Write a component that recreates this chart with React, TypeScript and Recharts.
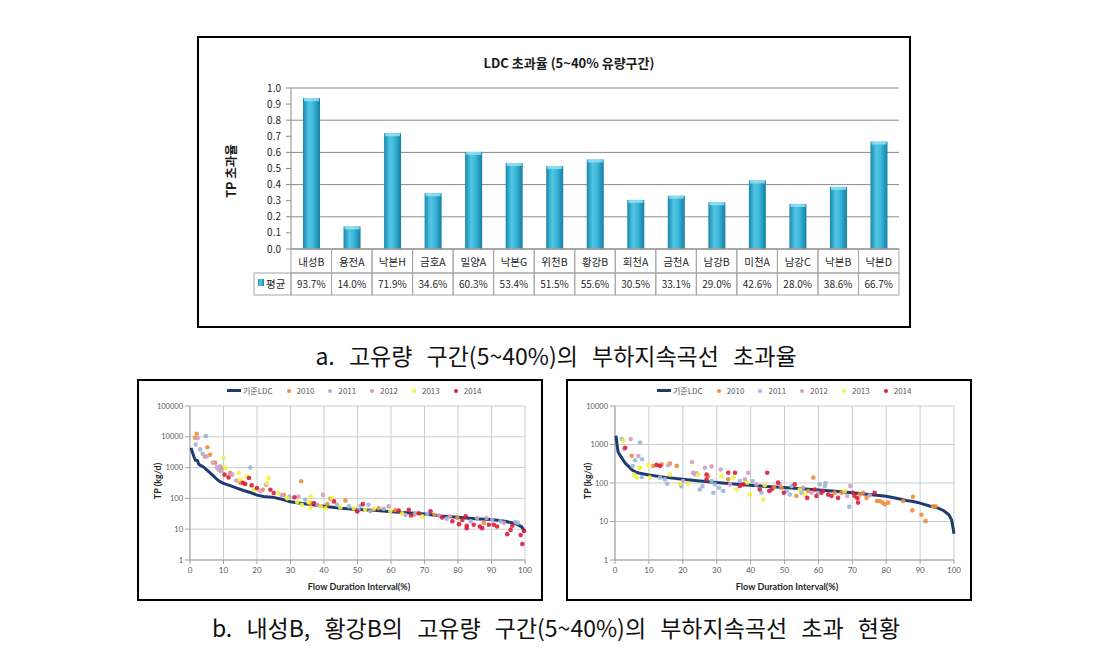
import React from "react";
import {
  Bar,
  BarChart,
  CartesianGrid,
  Scatter,
  ScatterChart,
  XAxis,
  YAxis,
} from "recharts";

// ---- top chart data ----
const stations = [
  "내성B", "용전A", "낙본H", "금호A", "밀양A", "낙본G", "위천B", "황강B",
  "회천A", "금천A", "남강B", "미천A", "남강C", "낙본B", "낙본D",
];
const exceedRates = [
  93.7, 14.0, 71.9, 34.6, 60.3, 53.4, 51.5, 55.6, 30.5, 33.1, 29.0, 42.6, 28.0, 38.6, 66.7,
];
const rateTicks = [0, 0.1, 0.2, 0.3, 0.4, 0.5, 0.6, 0.7, 0.8, 0.9, 1.0];

// ---- bottom charts data ----
type Pt = [number, number];
const flowTicks = [0, 10, 20, 30, 40, 50, 60, 70, 80, 90, 100];
const loadTicksLeft = [1, 10, 100, 1000, 10000, 100000];
const loadTicksRight = [1, 10, 100, 1000, 10000];
const seriesNames = ["2010", "2011", "2012", "2013", "2014"];
const ldcName = "기준LDC";

// 내성B
const ldcNaeseong: Pt[] = [
  [0.3, 4300], [0.8, 3000], [1.2, 2200], [1.6, 1750], [2.2, 1700], [2.6, 1300],
  [3, 1200], [4, 1050], [5, 850], [6, 680], [7, 540], [8, 420], [9, 350],
  [10, 305], [12, 260], [14, 215], [16, 180], [18, 155], [20, 128], [22, 115],
  [25, 108], [28, 90], [30, 78], [33, 70], [36, 63], [40, 56], [45, 48],
  [50, 44], [55, 41], [60, 37], [65, 34], [70, 31], [75, 27], [80, 24.5],
  [85, 22], [90, 20.5], [94, 18], [97, 15.5], [99, 12], [100, 8],
];
const naeseong2010: Pt[] = [
  [1.5, 9300], [2, 12500], [4.5, 2300], [5.2, 4600], [6, 2600], [7.5, 1450],
  [9.5, 950], [12, 670], [15, 320], [21.7, 190], [28, 130], [33.2, 360],
  [36, 70], [41, 65], [41.9, 97], [46.4, 85], [50, 38], [56.3, 48], [61.3, 42],
  [67, 30], [73, 29], [79.8, 23], [87.7, 16],
];
const naeseong2011: Pt[] = [
  [1.7, 5600], [3, 3900], [3.8, 2800], [4.7, 10500], [9.2, 760], [18, 1000],
  [29.7, 115], [34.4, 90], [43.9, 62], [47.4, 55], [50.3, 42], [50.9, 58],
  [53.3, 62], [57.8, 46], [67.3, 33], [70.8, 31], [76.6, 22], [83.8, 18],
  [90.2, 20], [92.7, 18], [97.2, 17], [97.9, 16],
];
const naeseong2012: Pt[] = [
  [2.3, 9000], [5, 2300], [6.8, 1450], [8, 1030], [8.5, 860], [9, 1100],
  [12.6, 590], [13.8, 380], [21, 170], [22.7, 280], [27.4, 125], [32.4, 115],
  [38, 62], [39.7, 130], [53.8, 38], [59.3, 55], [64.3, 29], [74.3, 28],
  [77.6, 26], [85.7, 23], [88.5, 23], [93.7, 16],
];
const naeseong2013: Pt[] = [
  [10, 2050], [10.5, 980], [14.5, 670], [15, 410], [17, 520], [19.1, 200],
  [23, 315], [23.4, 460], [26.4, 150], [29, 100], [32, 76], [33.4, 62],
  [35.4, 75], [36, 115], [35.9, 50], [39, 55], [40.4, 48], [42.4, 100],
  [44.9, 51], [48.9, 48], [52.3, 43], [54.9, 46], [59.8, 38], [63.3, 33],
  [69.3, 26],
];
const naeseong2014: Pt[] = [
  [10.3, 590], [11.5, 480], [15.8, 320], [16.5, 295], [17.6, 460], [18.4, 265],
  [20, 215], [24, 190], [25, 150], [31.2, 108], [37, 70], [43, 80], [49.9, 38],
  [51.6, 65], [62.3, 40], [65.3, 43], [66, 28], [68.3, 33], [71.8, 38],
  [75.3, 24], [78.3, 18], [80.3, 14.6], [81.3, 20], [82.3, 26], [82.6, 13],
  [82.6, 10.8], [84.7, 14], [86.5, 12.2], [87.2, 10.8], [89.2, 14], [90.7, 14],
  [91.7, 12.2], [94.7, 6.9], [95.7, 9.5], [96.2, 13], [98.7, 6.5], [99.2, 3.3],
  [99.7, 8.8],
];

// 황강B
const ldcHwanggang: Pt[] = [
  [0.3, 1700], [0.6, 1000], [0.9, 650], [1.5, 520], [2, 450], [3, 330],
  [4, 270], [5, 220], [6, 195], [7, 182], [10, 162], [15, 140], [20, 125],
  [25, 113], [30, 103], [35, 94], [40, 87], [45, 81], [50, 76], [55, 71],
  [60, 66], [65, 61], [70, 56], [75, 50], [80, 45], [83, 40], [86, 35],
  [88, 33], [90, 30], [93, 25], [95, 23], [97, 19], [98.5, 15], [99.3, 11],
  [99.7, 7], [100, 4.8],
];
const hwanggang2010: Pt[] = [
  [4.9, 510], [11.3, 278], [13.8, 305], [16.2, 320], [18.2, 278], [27.5, 150],
  [33.4, 124], [46.9, 78], [49.1, 75], [53.5, 46], [57, 62], [58.5, 138],
  [64.8, 56], [66.8, 56], [72.2, 50], [73.2, 56], [74.2, 41], [77.3, 34],
  [78.1, 34], [78.9, 31], [79.6, 28], [80.6, 31], [85, 34], [87.9, 44],
  [87.7, 19.5], [90.4, 15], [91.6, 10.2], [93.8, 25], [94.6, 25],
];
const hwanggang2011: Pt[] = [
  [2, 1380], [5.2, 275], [5.9, 390], [7.4, 1130], [8, 415], [7.9, 143],
  [13.3, 138], [14.7, 124], [15.4, 96], [19.6, 83], [23.6, 167], [25, 68],
  [25.8, 83], [28.5, 112], [29, 56], [29.5, 92], [30.7, 75], [31.9, 62],
  [36.8, 112], [40.6, 112], [43.2, 56], [50.6, 62], [51.6, 50], [52.1, 83],
  [55, 56], [59.9, 56], [60.4, 92], [61.9, 83], [62.1, 100], [69.1, 24],
];
const hwanggang2012: Pt[] = [
  [2.7, 760], [4.6, 1380], [6.9, 500], [15.7, 290], [20.1, 112], [22.7, 350],
  [23, 185], [24, 178], [26.5, 250], [28.5, 270], [31.2, 225], [33.9, 92],
  [38.3, 124], [39.3, 185], [41.7, 92], [48.6, 92], [55.5, 75], [58, 56],
  [68.5, 46], [69.4, 83], [75.1, 48],
];
const hwanggang2013: Pt[] = [
  [2.5, 1250], [5.6, 167], [6.4, 138], [7.2, 243], [7.4, 250], [9.8, 295],
  [10.3, 138], [16.2, 167], [19.2, 96], [21.6, 96], [24.5, 167], [31.4, 150],
  [34.9, 138], [35.8, 68], [39, 102], [39.8, 50], [43.7, 37], [44.2, 88],
  [54.5, 68], [56, 50], [67.8, 62],
];
const hwanggang2014: Pt[] = [
  [3, 820], [12.3, 295], [13.3, 278], [27, 167], [27, 124], [33.4, 185],
  [35.4, 185], [36.8, 83], [37.8, 92], [42.7, 68], [44.9, 185], [45.5, 62],
  [46.2, 68], [48.1, 102], [49.8, 56], [53, 92], [56.7, 41], [58.9, 68],
  [59.4, 46], [60.9, 56], [61.4, 62], [62.9, 50], [63.9, 46], [65.8, 41],
  [70.2, 56], [70.7, 46], [71.5, 40], [71.7, 31], [76.6, 56],
];

// ---- styles ----
const FONT_KR = '"Noto Sans CJK KR", "Noto Sans", sans-serif';
const FONT_EN = 'Lato, "Liberation Sans", sans-serif';
const yearColors = ["#ef8d3c", "#9fb6da", "#cfa0c6", "#f3f23a", "#dc1f3e"];
const LDC_COLOR = "#1f3c72";
const TABLE_LINE = "#a6a6a6";

const TOP_PLOT_W = 608;
const BAND = TOP_PLOT_W / stations.length;

const barData = stations.map((name, i) => ({ name, rate: exceedRates[i] / 100 }));
const toPts = (arr: Pt[]) => arr.map(([x, y]) => ({ x, y }));

function TableTick(props: any) {
  const { x, y, payload } = props;
  const i = props.index ?? stations.indexOf(payload.value);
  const left = x - BAND / 2;
  const txt = { fontFamily: FONT_KR, fontSize: 10.5, fill: "#262626" };
  return (
    <g>
      <rect x={left} y={y} width={BAND} height={24} fill="none" stroke={TABLE_LINE} />
      <text x={x} y={y + 17} textAnchor="middle" {...txt}>
        {payload.value}
      </text>
      <rect x={left} y={y + 24} width={BAND} height={22} fill="none" stroke={TABLE_LINE} />
      <text x={x} y={y + 39} textAnchor="middle" {...txt} fontSize={10}>
        {exceedRates[i].toFixed(1)}%
      </text>
      {i === 0 && (
        <g>
          <rect x={left - 37} y={y + 24} width={37} height={22} fill="none" stroke={TABLE_LINE} />
          <rect x={left - 33} y={y + 30} width={6} height={7} fill="url(#barFill)" />
          <text x={left - 25} y={y + 39} textAnchor="start" {...txt}>
            평균
          </text>
        </g>
      )}
    </g>
  );
}

function BarShape(props: any) {
  const { x, y, width, height } = props;
  if (!height || height <= 0) return <g />;
  return (
    <g>
      <rect x={x} y={y} width={width} height={height} fill="url(#barFill)" />
      <rect x={x + 1} y={y} width={width - 2} height={3} fill="#9ae4f5" opacity={0.8} />
    </g>
  );
}

function TopChart() {
  return (
    <div
      style={{
        position: "absolute",
        left: 197,
        top: 36,
        width: 714,
        height: 292,
        border: "2px solid #000",
        boxSizing: "border-box",
      }}
    >
      <BarChart
        width={710}
        height={288}
        data={barData}
        margin={{ top: 50, right: 10, bottom: 0, left: 0 }}
      >
        <defs>
          <linearGradient id="barFill" x1="0" y1="0" x2="1" y2="0">
            <stop offset="0%" stopColor="#1888ae" />
            <stop offset="35%" stopColor="#53c6e4" />
            <stop offset="60%" stopColor="#3cb8da" />
            <stop offset="100%" stopColor="#147fa4" />
          </linearGradient>
        </defs>
        <CartesianGrid vertical={false} stroke="#8a8a8a" />
        <XAxis
          dataKey="name"
          interval={0}
          height={77}
          tickSize={0}
          tickMargin={0}
          axisLine={{ stroke: "#8a8a8a" }}
          tick={(p: any) => <TableTick {...p} />}
        />
        <YAxis
          type="number"
          domain={[0, 1]}
          ticks={rateTicks}
          width={92}
          tickSize={5}
          tickMargin={5}
          tickFormatter={(v: number) => v.toFixed(1)}
          axisLine={{ stroke: "#8a8a8a" }}
          tickLine={{ stroke: "#8a8a8a" }}
          tick={{ fontSize: 10, fill: "#262626", fontFamily: FONT_KR }}
        />
        <Bar dataKey="rate" barSize={17} shape={<BarShape />} isAnimationActive={false} />
      </BarChart>
      <div
        style={{
          position: "absolute",
          left: 370,
          top: 24,
          transform: "translate(-50%, -50%)",
          whiteSpace: "nowrap",
          fontFamily: FONT_KR,
          fontWeight: 700,
          fontSize: 13,
          color: "#1a1a1a",
        }}
      >
        LDC 초과율 (5~40% 유량구간)
      </div>
      <div
        style={{
          position: "absolute",
          left: 31,
          top: 133,
          transform: "translate(-50%, -50%) rotate(-90deg)",
          whiteSpace: "nowrap",
          fontFamily: FONT_KR,
          fontWeight: 700,
          fontSize: 12.5,
          color: "#1a1a1a",
        }}
      >
        TP 초과율
      </div>
    </div>
  );
}

const noShape = () => <g />;

function dotShape(color: string) {
  return (p: any) => <circle cx={p.cx} cy={p.cy} r={2.3} fill={color} fillOpacity={0.9} />;
}

function LdcLegend({ left }: { left: number }) {
  return (
    <div
      style={{
        position: "absolute",
        left,
        top: 385,
        display: "flex",
        alignItems: "center",
        gap: 14,
        fontFamily: FONT_KR,
        fontSize: 8,
        color: "#595959",
        whiteSpace: "nowrap",
      }}
    >
      <div style={{ display: "flex", alignItems: "center" }}>
        <span style={{ width: 14, height: 3, background: LDC_COLOR, marginRight: 2 }} />
        {ldcName}
      </div>
      {seriesNames.map((n, k) => (
        <div key={n} style={{ display: "flex", alignItems: "center" }}>
          <span
            style={{
              width: 4,
              height: 4,
              borderRadius: 2,
              background: yearColors[k],
              marginRight: 6,
            }}
          />
          {n}
        </div>
      ))}
    </div>
  );
}

function LdcChart({
  left,
  yAxisW,
  ldc,
  years,
  yTicks,
}: {
  left: number;
  yAxisW: number;
  ldc: Pt[];
  years: Pt[][];
  yTicks: number[];
}) {
  return (
    <div
      style={{
        position: "absolute",
        left,
        top: 379,
        width: 406,
        height: 222,
        border: "2px solid #000",
        boxSizing: "border-box",
      }}
    >
      <ScatterChart width={402} height={218} margin={{ top: 25, right: 16, bottom: 0, left: 0 }}>
        <CartesianGrid stroke="#cdcdcd" />
        <XAxis
          type="number"
          dataKey="x"
          domain={[0, 100]}
          ticks={flowTicks}
          height={39}
          tickSize={4}
          tickMargin={3}
          axisLine={{ stroke: "#a0a0a0" }}
          tickLine={{ stroke: "#a0a0a0" }}
          tick={{ fontSize: 8, fill: "#595959", fontFamily: FONT_EN }}
        />
        <YAxis
          type="number"
          dataKey="y"
          scale="log"
          domain={[1, yTicks[yTicks.length - 1]]}
          ticks={yTicks}
          allowDataOverflow
          width={yAxisW}
          tickSize={5}
          tickMargin={2}
          axisLine={{ stroke: "#a0a0a0" }}
          tickLine={{ stroke: "#a0a0a0" }}
          tick={{ fontSize: 7.5, fill: "#595959", fontFamily: FONT_EN }}
        />
        <Scatter
          data={toPts(ldc)}
          line={{ stroke: LDC_COLOR, strokeWidth: 3 }}
          shape={noShape}
          isAnimationActive={false}
        />
        {years.map((pts, k) => (
          <Scatter
            key={seriesNames[k]}
            data={toPts(pts)}
            fill={yearColors[k]}
            shape={dotShape(yearColors[k])}
            isAnimationActive={false}
          />
        ))}
      </ScatterChart>
    </div>
  );
}

function AxisTitle({ x, y, text, rotate }: { x: number; y: number; text: string; rotate?: boolean }) {
  return (
    <div
      style={{
        position: "absolute",
        left: x,
        top: y,
        transform: `translate(-50%, -50%)${rotate ? " rotate(-90deg)" : ""}`,
        whiteSpace: "nowrap",
        fontFamily: FONT_EN,
        fontWeight: 700,
        fontSize: 9,
        color: "#262626",
      }}
    >
      {text}
    </div>
  );
}

function Caption({ y, text }: { y: number; text: string }) {
  return (
    <div
      style={{
        position: "absolute",
        left: 556,
        top: y,
        transform: "translate(-50%, -50%)",
        whiteSpace: "nowrap",
        fontFamily: FONT_KR,
        fontSize: 23,
        wordSpacing: 9,
        color: "#111",
      }}
    >
      {text}
    </div>
  );
}

export default function App() {
  return (
    <div
      style={{
        position: "absolute",
        left: 0,
        top: 0,
        width: 1098,
        height: 656,
        background: "#fff",
        overflow: "hidden",
      }}
    >
      <TopChart />
      <Caption y={355} text="a. 고유량 구간(5~40%)의 부하지속곡선 초과율" />

      <LdcChart
        left={137}
        yAxisW={51}
        ldc={ldcNaeseong}
        years={[naeseong2010, naeseong2011, naeseong2012, naeseong2013, naeseong2014]}
        yTicks={loadTicksLeft}
      />
      <LdcLegend left={227} />
      <AxisTitle x={157} y={481} text="TP (kg/d)" rotate />
      <AxisTitle x={359} y={586} text="Flow Duration Interval(%)" />

      <LdcChart
        left={566}
        yAxisW={47}
        ldc={ldcHwanggang}
        years={[hwanggang2010, hwanggang2011, hwanggang2012, hwanggang2013, hwanggang2014]}
        yTicks={loadTicksRight}
      />
      <LdcLegend left={657} />
      <AxisTitle x={587} y={481} text="TP (kg/d)" rotate />
      <AxisTitle x={787} y={586} text="Flow Duration Interval(%)" />

      <Caption y={627} text="b. 내성B, 황강B의 고유량 구간(5~40%)의 부하지속곡선 초과 현황" />
    </div>
  );
}
